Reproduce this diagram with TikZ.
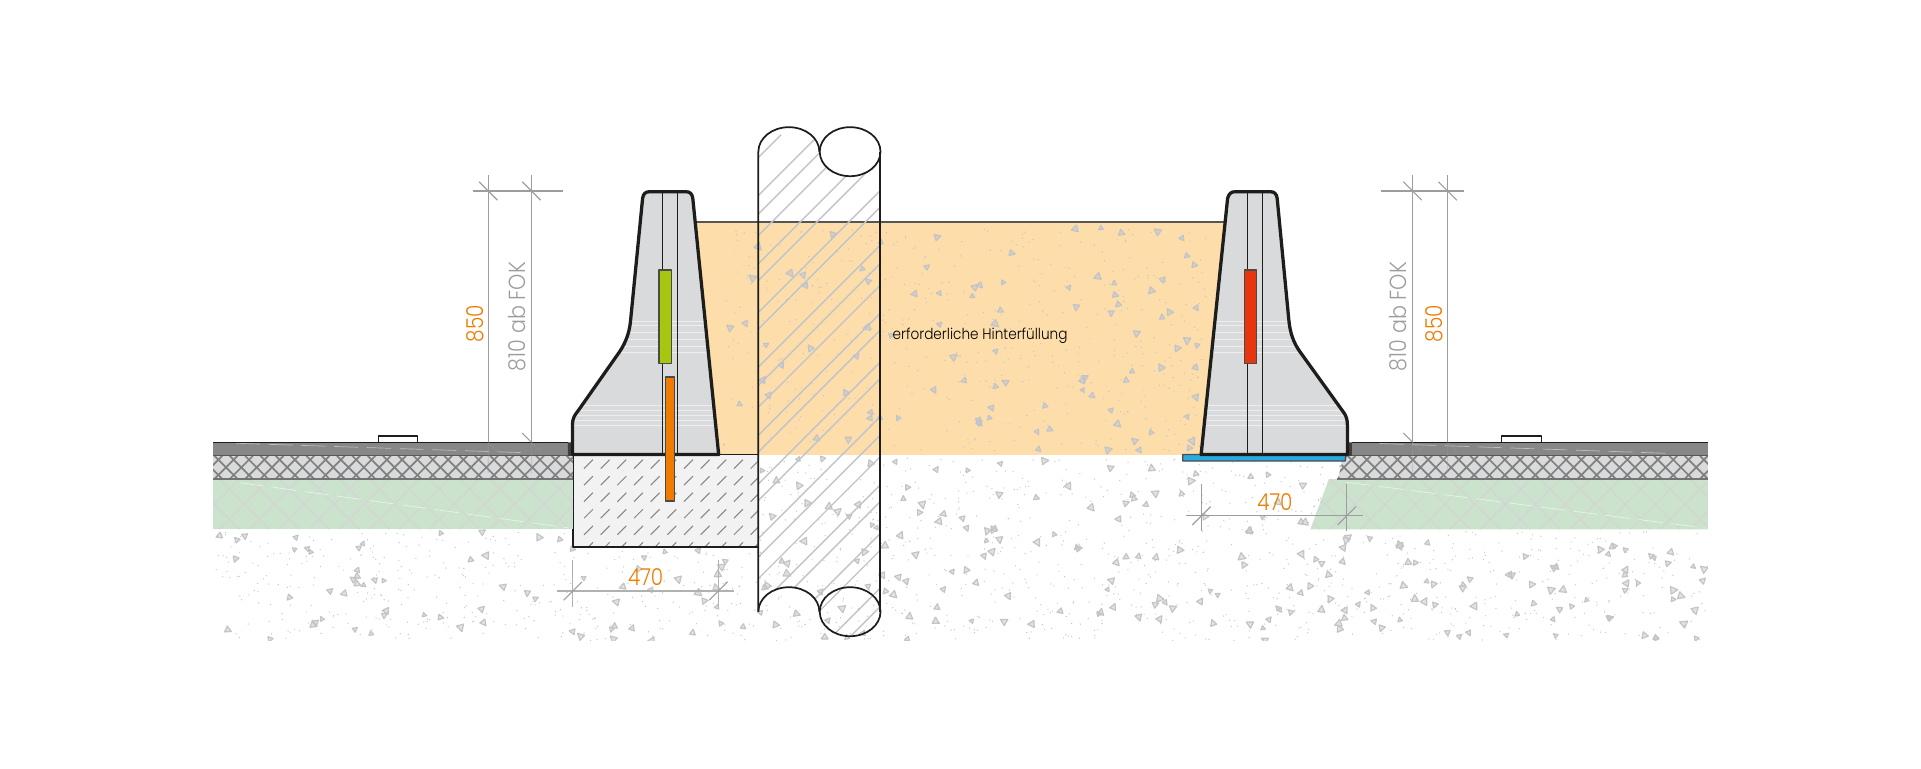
\documentclass[tikz,border=0pt]{standalone}
\usepackage{fontspec}
\setmainfont{Poppins Light}
\definecolor{fillorange}{HTML}{FDDDA9}
\definecolor{dimorange}{HTML}{EF7C00}
\definecolor{blockgrey}{HTML}{D9DADB}
\definecolor{dimgrey}{HTML}{9D9D9C}
\definecolor{soilgrey}{HTML}{C4C4C4}
\definecolor{sandgrey}{HTML}{BFC4CC}
\definecolor{layergreen}{HTML}{CBE2CC}
\definecolor{latticegrey}{HTML}{D2D6D3}
\definecolor{outline}{HTML}{1D1D1B}
\begin{document}
\begin{tikzpicture}[x=0.025cm,y=-0.025cm,line join=round,
	heavy/.style={draw=outline,line width=1.9pt},
	thin wall/.style={draw=outline,line width=1pt},
	dimline/.style={draw=dimgrey,line width=.65pt},
	hatchline/.style={draw=sandgrey,line width=.8pt},
	wisp/.style={draw=white,line width=.4pt,dash pattern=on 14pt off 5pt,opacity=.6},
	dimtext/.style={text=dimorange,font=\fontsize{13.5}{14}\selectfont\addfontfeature{FakeStretch=.86}},
	foktext/.style={text=dimgrey,font=\fontsize{13.5}{14}\selectfont\addfontfeature{FakeStretch=.89}}]
	\useasboundingbox (0,0) rectangle (1568,627);
	\pgfmathsetseed{4711}
	\def\soilspread#1#2#3#4#5#6#7{
		\foreach \n in {1,...,#5}{
			\pgfmathsetmacro\tx{#1+rnd*(#2-#1)}
			\pgfmathsetmacro\ty{#3+rnd*(#4-#3)}
			\pgfmathsetmacro\ta{rnd*360}
			\pgfmathsetmacro\ts{0.65+rnd*0.5}
			\draw[#7,line width=.7pt,fill=#7,fill opacity=.5,shift={(\tx,\ty)},rotate=\ta,scale=\ts] (0,-3)--(2.7,2)--(-2.7,2)--cycle;
		}
		\foreach \n in {1,...,#6}{
			\pgfmathsetmacro\tx{#1+rnd*(#2-#1)}
			\pgfmathsetmacro\ty{#3+rnd*(#4-#3)}
			\fill[#7] (\tx,\ty) circle (.55);
		}
	}
	\def\leftblock{(467.3,371) -- (467.3,347) .. controls (467.3,341) and (469,339) .. (472.3,334.7) -- (505.8,287) .. controls (511,279) and (513.5,272) .. (514.6,262.6) -- (524.5,162) .. controls (525,158) and (527,156.5) .. (530,156.5) -- (560,156.5) .. controls (563,156.5) and (565,158) .. (565.5,162) -- (586.6,371) -- cycle}
	\def\rightblock{(980.4,371) -- (1002,162) .. controls (1003,158) and (1005,156.5) .. (1008,156.5) -- (1037,156.5) .. controls (1040,156.5) and (1042,158) .. (1042.5,162) -- (1052,261.2) .. controls (1053,272) and (1056,280) .. (1061,287) -- (1097.3,337.4) .. controls (1099,340) and (1099.8,343) .. (1099.8,347) -- (1099.8,371) -- cycle}
	% soil
	\begin{scope}
		\clip (174,371) rectangle (1394,523);
		\soilspread{174}{1394}{434}{523}{235}{1000}{soilgrey}
		\soilspread{619}{1105}{374}{434}{60}{260}{soilgrey}
	\end{scope}
	% backfill
	\fill[fillorange] (560,181) rectangle (1010,371);
	\soilspread{590}{985}{186}{368}{95}{440}{sandgrey}
	\draw[outline!75,line width=.9pt] (567.4,181.3)--(1000,181.3);
	% footing
	\filldraw[fill=white!95!black,draw=none] (467.5,371) rectangle (619,446.6);
	\begin{scope}
		\clip (467.5,371) rectangle (619,446.6);
		\foreach \row in {0,...,5}{
			\foreach \col in {0,...,10}{
				\draw[dimgrey!85!black,line width=.6pt] ({476.7+13.6*\col},{382.5+13.5*\row})--+(7.3,-7.3);
			}
		}
	\end{scope}
	\draw[heavy,line width=1.2pt] (467.5,371)--(467.5,446.6)--(619,446.6);
	\draw[outline,line width=.7pt] (586,371)--(619,371);
	% left road
	\fill[layergreen] (174,391) rectangle (467.5,432);
	\fill[blockgrey] (174,372) rectangle (467.5,391);
	% right road
	\fill[layergreen] (1084.7,391)--(1394,391)--(1394,432)--(1069.6,432)--cycle;
	\fill[blockgrey] (1097,372)--(1394,372)--(1394,391)--(1092,391)--cycle;
	% layer hatching
	\begin{scope}
		\clip (174,391) rectangle (467.5,432) (1084.7,391)--(1394,391)--(1394,432)--(1069.6,432)--cycle;
		\foreach \k in {0,...,56}{
			\draw[latticegrey,line width=.7pt] ({130+24.5*\k},432)--+(41,-41) ({130+24.5*\k},391)--+(41,41);
		}
		\draw[wisp] (196,394)--(465,431) (1099,393.6)--(1392,431);
	\end{scope}
	\begin{scope}
		\clip (174,372) rectangle (467.5,391) (1097,372)--(1394,372)--(1394,391)--(1092,391)--cycle;
		\foreach \k in {0,...,105}{
			\draw[black!50,line width=1pt] ({150+12.5*\k},391)--+(19,-19) ({150+12.5*\k},372)--+(19,19);
		}
	\end{scope}
	\draw[black!55,line width=1pt] (174,391)--(467.5,391) (1091,391)--(1394,391);
	\filldraw[fill=black!47,draw=none] (174,361) rectangle (464,372) (1103.4,361) rectangle (1394,372);
	\draw[wisp,draw=white,opacity=.45] (192.6,361.8)--(425,369.4) (1126,362)--(1361,370);
	\draw[outline,line width=.9pt] (174,361)--(464,361) (1103.4,361)--(1394,361);
	\draw[black!65,line width=.8pt] (174,372)--(464,372) (1103.4,372)--(1394,372);
	\fill[outline!85] (463.6,361) rectangle (467.5,372) (1099.8,361) rectangle (1103.4,372);
	\filldraw[fill=white,draw=outline,line width=.8pt] (309,356) rectangle (341,361);
	\filldraw[fill=white,draw=outline,line width=.8pt] (1225.7,356) rectangle (1258,361);
	% barriers
	\fill[blockgrey] \leftblock;
	\fill[blockgrey] \rightblock;
	\begin{scope}
		\clip \leftblock \rightblock;
		\foreach \ly in {262,266,271,277,283,288,331,335,339,343,347}{
			\draw[white!55!blockgrey,line width=.5pt] (465,\ly)--(600,\ly) (975,\ly)--(1105,\ly);
		}
	\end{scope}
	\draw[outline,line width=.75pt] (540.8,156.5)--(540.8,371) (552.9,156.5)--(552.9,371);
	\draw[outline,line width=.75pt] (1018.5,156.5)--(1018.5,371) (1030.3,156.5)--(1030.3,371);
	\filldraw[fill={rgb,255:red,41;green,171;blue,226},draw=black!70,line width=.8pt] (965.4,371)--(1098.8,371)--(1098,376.3)--(965.4,376.3)--cycle;
	\draw[heavy] \leftblock;
	\draw[heavy] \rightblock;
	\filldraw[fill={rgb,255:red,165;green,200;blue,15},draw=outline!80,line width=.9pt] (537.9,220.4) rectangle (548,296.6);
	\filldraw[fill=dimorange,draw=outline!80,line width=.9pt] (543.2,307.5) rectangle (550.7,409);
	\filldraw[fill={rgb,255:red,232;green,52;blue,15},draw=outline!80,line width=.9pt] (1015.8,220.4) rectangle (1025.7,296.6);
	% wall
	\begin{scope}
		\clip (619,123.8) arc[start angle=180,end angle=360,x radius=24.9,y radius=20]
			arc[start angle=180,end angle=0,x radius=24.8,y radius=20]
			-- (718.5,499.3) arc[start angle=0,end angle=180,x radius=24.8,y radius=20]
			arc[start angle=360,end angle=180,x radius=24.9,y radius=20] -- cycle;
		\foreach \p in {0,...,5}{
			\foreach \k in {0,13.6,44.6,59.6,77.3,100.3,113.9}{
				\draw[hatchline] ({204+140*\p+\k},530)--+(420,-420);
			}
		}
	\end{scope}
	\draw[thin wall] (619,499.3)--(619,123.8) arc[start angle=180,end angle=360,x radius=24.9,y radius=20];
	\draw[thin wall] (693.9,123.8) ellipse[x radius=24.8,y radius=20];
	\draw[thin wall] (718.5,123.8)--(718.5,499.3);
	\draw[thin wall] (619,499.3) arc[start angle=180,end angle=360,x radius=24.9,y radius=20];
	\draw[thin wall] (693.9,499.3) ellipse[x radius=24.8,y radius=20];
	% dimensions
	\draw[dimline] (398.5,142.9)--(398.5,361) (433.8,142.9)--(433.8,361) (385.7,155.9)--(459.2,155.9);
	\draw[dimline] (391,148.4)--(406,163.4) (426.3,148.4)--(441.3,163.4) (426.3,353.5)--(433.8,361);
	\draw[dimline,opacity=.35] (398.5,361)--(398.5,386) (433.8,361)--(433.8,386) (398.5,361)--(406,368.5) (433.8,361)--(441.3,368.5);
	\draw[dimline] (1153,142.9)--(1153,361) (1181.6,142.9)--(1181.6,361) (1126.9,155.9)--(1194.9,155.9);
	\draw[dimline] (1145.5,148.4)--(1160.5,163.4) (1174.1,148.4)--(1189.1,163.4) (1145.5,353.5)--(1153,361);
	\draw[dimline,opacity=.35] (1153,361)--(1153,386) (1181.6,361)--(1181.6,386) (1153,361)--(1160.5,368.5) (1181.6,361)--(1189.1,368.5);
	\draw[dimline,draw=dimgrey!80] (454.8,482.4)--(598.8,482.4) (467.6,457.1)--(467.6,495.3) (586.4,457.1)--(586.4,495.3);
	\draw[dimline] (460.1,489.9)--(475.1,474.9) (578.9,489.9)--(593.9,474.9);
	\draw[dimline] (968,421)--(1112.4,421) (980.7,395.4)--(980.7,433.5) (1099.4,395.4)--(1099.4,433.5);
	\draw[dimline] (973.2,428.5)--(988.2,413.5) (1091.9,428.5)--(1106.9,413.5);
	% labels
	\node[dimtext,rotate=90] (hoehelinks) at (387.8,264) {850};
	\node[foktext,rotate=90] (foklinks) at (422,258.5) {810 ab FOK};
	\node[foktext,rotate=90] (fokrechts) at (1141,258.5) {810 ab FOK};
	\node[dimtext,rotate=90] (hoeherechts) at (1170.6,264) {850};
	\node[dimtext] (breitelinks) at (527,471) {470};
	\node[dimtext] (breiterechts) at (1040.6,410) {470};
	\node[text=black,font=\fontsize{8.8}{10}\selectfont\addfontfeature{FakeStretch=.9}] (hinterfuellung) at (800,274) {erforderliche Hinterfüllung};
\end{tikzpicture}
\end{document}
